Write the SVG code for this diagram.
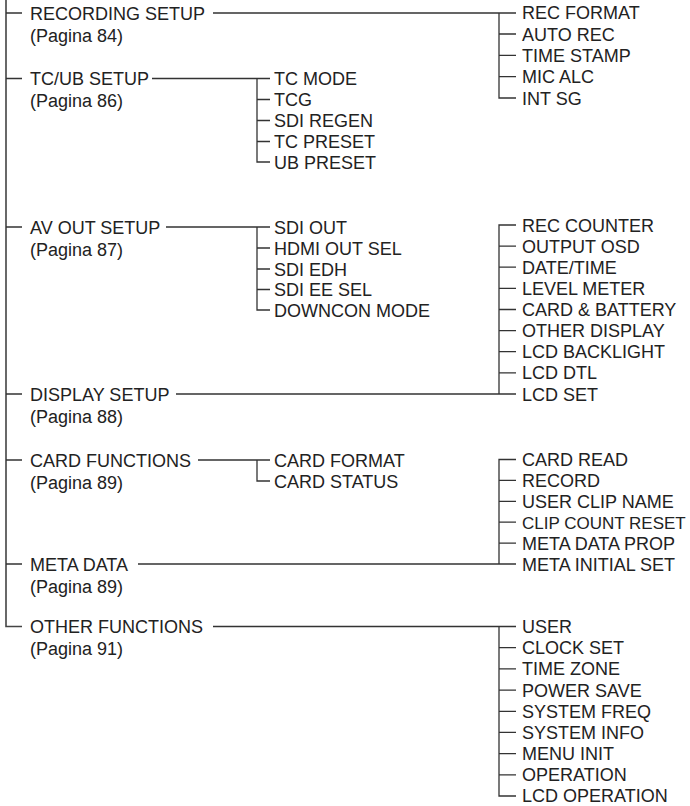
<svg xmlns="http://www.w3.org/2000/svg" width="690" height="806" viewBox="0 0 690 806">
<style>
text{font-family:"Liberation Sans",Arial,sans-serif;font-size:18px;fill:#222}
.c{fill:none;stroke:#333;stroke-width:1.3}
.root{fill:none;stroke:#444;stroke-width:1.6}
</style>
<rect width="690" height="806" fill="#fff"/>
<g id="connectors">
<path class="root" d="M6,0 V626.5 H22"/>
<path class="c" d="M6,13 H22 M6,78.5 H22 M6,227 H22 M6,394 H22 M6,460 H22 M6,564 H22"/>
<path class="c" d="M213,13 H516 M499,13 V98 H516 M499,34 H516 M499,55.3 H516 M499,76.7 H516"/>
<path class="c" d="M152,78.5 H270 M257,78.5 V162 H270 M257,99.5 H270 M257,120.5 H270 M257,141.5 H270"/>
<path class="c" d="M166,227 H270 M257,227 V310 H270 M257,248 H270 M257,269 H270 M257,289.5 H270"/>
<path class="c" d="M176,394 H516 M516,225 H499 V394 M499,246.1 H516 M499,267.2 H516 M499,288.4 H516 M499,309.5 H516 M499,330.6 H516 M499,351.7 H516 M499,372.9 H516"/>
<path class="c" d="M198,460 H270 M257,460 V481 H270"/>
<path class="c" d="M138,564 H516 M516,459.5 H499 V564 M499,480.4 H516 M499,501.3 H516 M499,522.2 H516 M499,543.1 H516"/>
<path class="c" d="M213,626.5 H516 M499,626.5 V796 H516 M499,647.7 H516 M499,668.9 H516 M499,690.1 H516 M499,711.3 H516 M499,732.4 H516 M499,753.6 H516 M499,774.8 H516"/>
</g>
<g id="recording-setup"><text x="30" y="19.5">RECORDING SETUP</text><text x="30" y="41.5">(Pagina 84)</text></g>
<g id="tcub-setup"><text x="30" y="85">TC/UB SETUP</text><text x="30" y="107">(Pagina 86)</text></g>
<g id="avout-setup"><text x="30" y="233.5">AV OUT SETUP</text><text x="30" y="255.5">(Pagina 87)</text></g>
<g id="display-setup"><text x="30" y="400.5">DISPLAY SETUP</text><text x="30" y="422.5">(Pagina 88)</text></g>
<g id="card-functions"><text x="30" y="466.5">CARD FUNCTIONS</text><text x="30" y="488.5">(Pagina 89)</text></g>
<g id="meta-data"><text x="30" y="570.5">META DATA</text><text x="30" y="592.5">(Pagina 89)</text></g>
<g id="other-functions"><text x="30" y="633">OTHER FUNCTIONS</text><text x="30" y="655">(Pagina 91)</text></g>
<g id="rec-items">
<text x="522" y="19">REC FORMAT</text>
<text x="522" y="40.5">AUTO REC</text>
<text x="522" y="61.8">TIME STAMP</text>
<text x="522" y="83.2">MIC ALC</text>
<text x="522" y="104.5">INT SG</text>
</g>
<g id="tcub-items">
<text x="274" y="85">TC MODE</text>
<text x="274" y="106">TCG</text>
<text x="274" y="127">SDI REGEN</text>
<text x="274" y="148">TC PRESET</text>
<text x="274" y="168.5">UB PRESET</text>
</g>
<g id="avout-items">
<text x="274" y="233.5">SDI OUT</text>
<text x="274" y="254.5">HDMI OUT SEL</text>
<text x="274" y="275.5">SDI EDH</text>
<text x="274" y="296">SDI EE SEL</text>
<text x="274" y="316.5">DOWNCON MODE</text>
</g>
<g id="display-items">
<text x="522" y="231.5">REC COUNTER</text>
<text x="522" y="252.6">OUTPUT OSD</text>
<text x="522" y="273.7">DATE/TIME</text>
<text x="522" y="294.9">LEVEL METER</text>
<text x="522" y="316">CARD &amp; BATTERY</text>
<text x="522" y="337.1">OTHER DISPLAY</text>
<text x="522" y="358.2">LCD BACKLIGHT</text>
<text x="522" y="379.4">LCD DTL</text>
<text x="522" y="400.5">LCD SET</text>
</g>
<g id="card-items">
<text x="274" y="466.5">CARD FORMAT</text>
<text x="274" y="487.5">CARD STATUS</text>
</g>
<g id="meta-items">
<text x="522" y="466">CARD READ</text>
<text x="522" y="486.9">RECORD</text>
<text x="522" y="507.8">USER CLIP NAME</text>
<text x="522" y="528.5" style="font-size:17px">CLIP COUNT RESET</text>
<text x="522" y="549.6">META DATA PROP</text>
<text x="522" y="570.5">META INITIAL SET</text>
</g>
<g id="other-items">
<text x="522" y="633">USER</text>
<text x="522" y="654.2">CLOCK SET</text>
<text x="522" y="675.4">TIME ZONE</text>
<text x="522" y="696.6">POWER SAVE</text>
<text x="522" y="717.8">SYSTEM FREQ</text>
<text x="522" y="738.9">SYSTEM INFO</text>
<text x="522" y="760.1">MENU INIT</text>
<text x="522" y="781.3">OPERATION</text>
<text x="522" y="802.3">LCD OPERATION</text>
</g>
</svg>
